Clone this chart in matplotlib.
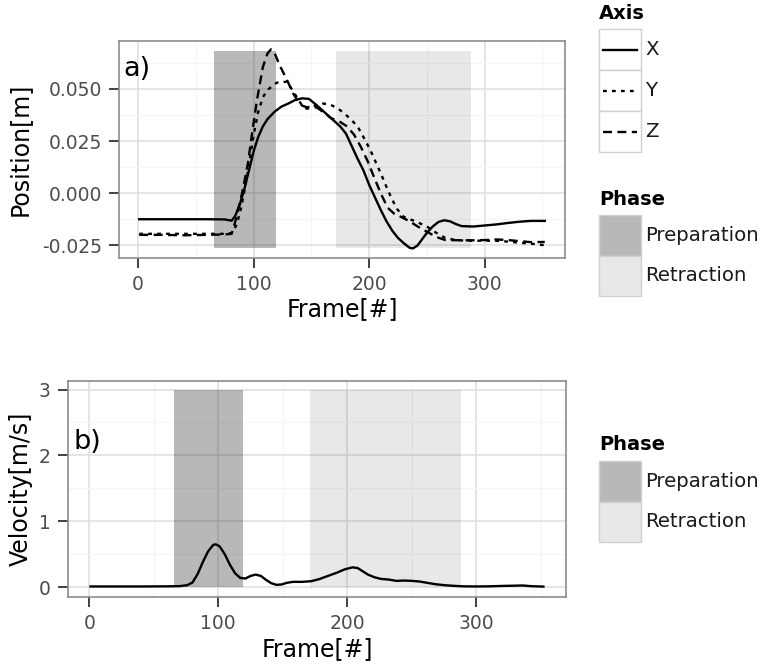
import matplotlib
matplotlib.use("Agg")
import matplotlib.pyplot as plt
from matplotlib.patches import Rectangle
import numpy as np

plt.rcParams.update({"font.family": "DejaVu Sans"})

# ---- data ----
x_frame = [1, 20, 40, 60, 75, 81, 84, 88, 92, 96, 100, 104, 108, 112, 118, 124, 130, 136,
           142, 148, 155, 162, 170, 175, 180, 185, 190, 195, 200, 205, 210, 215, 220, 225,
           230, 235, 238, 242, 246, 250, 255, 260, 265, 270, 275, 280, 290, 300, 310, 320,
           330, 340, 352]
x_pos = [-0.0125, -0.0125, -0.0125, -0.0125, -0.0126, -0.0132, -0.011, -0.0055, 0.002, 0.011,
         0.020, 0.027, 0.032, 0.0355, 0.039, 0.0415, 0.043, 0.0447, 0.0455, 0.0452, 0.042,
         0.0385, 0.0345, 0.032, 0.0285, 0.0225, 0.0165, 0.0110, 0.004, -0.002, -0.008, -0.0135,
         -0.018, -0.0215, -0.024, -0.0262, -0.0265, -0.025, -0.022, -0.019, -0.016, -0.0138,
         -0.0130, -0.0135, -0.0148, -0.0158, -0.016, -0.0155, -0.015, -0.0143, -0.0137,
         -0.0133, -0.0133]

y_frame = [1, 20, 40, 60, 75, 82, 86, 90, 95, 100, 104, 108, 112, 120, 129, 134, 138, 142,
           146, 150, 155, 160, 166, 172, 178, 184, 190, 195, 201, 206, 210, 215, 219, 224,
           230, 240, 250, 258, 266, 275, 285, 295, 305, 315, 325, 335, 345, 352]
y_pos = [-0.0195, -0.0195, -0.0195, -0.0195, -0.0195, -0.019, -0.014, -0.005, 0.010, 0.028,
         0.039, 0.046, 0.0495, 0.053, 0.0535, 0.049, 0.0455, 0.042, 0.0405, 0.041, 0.0425,
         0.043, 0.0425, 0.041, 0.0385, 0.0355, 0.032, 0.027, 0.0207, 0.0145, 0.0096, 0.003,
         -0.002, -0.0075, -0.0114, -0.0135, -0.016, -0.019, -0.0215, -0.0225, -0.0228,
         -0.0228, -0.0228, -0.023, -0.0235, -0.024, -0.0245, -0.025]

z_frame = [1, 20, 40, 60, 75, 81, 85, 90, 95, 99, 103, 108, 112, 115, 118, 122, 126, 130,
           134, 138, 142, 146, 150, 155, 160, 167, 174, 181, 187, 193, 199, 204, 210, 216,
           222, 228, 235, 242, 250, 258, 266, 280, 290, 300, 310, 320, 330, 340, 352]
z_pos = [-0.020, -0.020, -0.0202, -0.020, -0.0198, -0.0195, -0.012, 0.000, 0.014, 0.030,
         0.045, 0.0605, 0.067, 0.069, 0.0675, 0.062, 0.0575, 0.053, 0.048, 0.0445, 0.042,
         0.0412, 0.0415, 0.041, 0.039, 0.036, 0.0345, 0.032, 0.028, 0.022, 0.015, 0.008,
         0.000, -0.007, -0.010, -0.0115, -0.0135, -0.016, -0.0185, -0.021, -0.0225, -0.0226,
         -0.0226, -0.0225, -0.0222, -0.0225, -0.023, -0.0235, -0.0234]

v_frame = [1, 20, 40, 60, 70, 76, 80, 84, 88, 92, 96, 98, 101, 105, 109, 113, 117, 121, 125,
           129, 133, 137, 141, 145, 149, 153, 158, 165, 172, 178, 185, 192, 198, 204, 208,
           212, 216, 221, 226, 232, 238, 244, 250, 256, 262, 268, 275, 282, 290, 300, 310,
           320, 330, 336, 342, 352]
v_val = [0.01, 0.01, 0.01, 0.012, 0.015, 0.03, 0.07, 0.2, 0.38, 0.54, 0.64, 0.65, 0.62, 0.5,
         0.34, 0.21, 0.14, 0.13, 0.17, 0.19, 0.17, 0.11, 0.06, 0.035, 0.04, 0.065, 0.08, 0.08,
         0.09, 0.12, 0.17, 0.22, 0.27, 0.30, 0.29, 0.24, 0.19, 0.15, 0.125, 0.115, 0.095, 0.1,
         0.095, 0.085, 0.065, 0.045, 0.03, 0.02, 0.012, 0.01, 0.012, 0.018, 0.022, 0.025,
         0.015, 0.008]

phase_names = ["Preparation", "Retraction"]
phase_start = [66, 171]
phase_end = [119, 288]
phase_alpha = [0.28, 0.09]

axis_names = ["X", "Y", "Z"]
axis_styles = ["-", (0, (1.6, 2.2)), (0, (3.8, 2.3))]

W, H = 765, 668
fig = plt.figure(figsize=(W / 100, H / 100), dpi=100)

def px_axes(l, t, r, b):
    return fig.add_axes([l / W, 1 - b / H, (r - l) / W, (b - t) / H])

def style_panel(ax, xlim, ylim, yticks, yminor, ylabels):
    ax.set_xlim(*xlim)
    ax.set_ylim(*ylim)
    ax.set_xticks([0, 100, 200, 300])
    ax.set_xticks([50, 150, 250, 350], minor=True)
    ax.set_yticks(yticks)
    ax.set_yticklabels(ylabels)
    ax.set_yticks(yminor, minor=True)
    ax.grid(which="major", color="#e0e0e0", lw=1.2)
    ax.grid(which="minor", color="#f5f5f5", lw=0.8)
    ax.set_axisbelow(True)
    ax.tick_params(which="major", length=7, width=1.3, color="#333333", pad=5.5,
                   labelsize=13.5, labelcolor="#4d4d4d")
    ax.tick_params(which="minor", length=0)
    for s in ax.spines.values():
        s.set_color("#8c8c8c")
        s.set_linewidth(1.2)

def shade(ax, y0, y1):
    for s, e, a in zip(phase_start, phase_end, phase_alpha):
        ax.add_patch(Rectangle((s, y0), e - s, y1 - y0, facecolor="black",
                               alpha=a, lw=0, zorder=1))

# ---- a) position ----
ax1 = px_axes(119, 41, 565, 258)
style_panel(ax1, (-16.5, 369.5), (-0.0311, 0.0730),
            [-0.025, 0.0, 0.025, 0.050], [-0.0125, 0.0125, 0.0375, 0.0625],
            ["-0.025", "0.000", "0.025", "0.050"])
shade(ax1, -0.0264, 0.0683)
for fr, vals, ls in zip([x_frame, y_frame, z_frame], [x_pos, y_pos, z_pos], axis_styles):
    ax1.plot(fr, vals, color="black", lw=1.7, linestyle=ls, zorder=3)
ax1.text(-13, 0.0595, "a)", fontsize=19.5, ha="left", va="center", zorder=4)
ax1.set_xlabel("Frame[#]", fontsize=17)
ax1.set_ylabel("Position[m]", fontsize=17)
ax1.xaxis.set_label_coords(0.5, -0.18)
ax1.yaxis.set_label_coords(-0.195, 0.5)

# ---- b) velocity ----
ax2 = px_axes(68, 381, 566, 597)
style_panel(ax2, (-16.5, 369.5), (-0.15, 3.13), [0, 1, 2, 3], [0.5, 1.5, 2.5],
            ["0", "1", "2", "3"])
shade(ax2, 0, 3)
ax2.plot(v_frame, v_val, color="black", lw=1.7, zorder=3)
ax2.text(-12, 2.2, "b)", fontsize=19.5, ha="left", va="center", zorder=4)
ax2.set_xlabel("Frame[#]", fontsize=17)
ax2.set_ylabel("Velocity[m/s]", fontsize=17)
ax2.xaxis.set_label_coords(0.5, -0.185)
ax2.yaxis.set_label_coords(-0.07, 0.5)

# ---- legends (ggplot-like, drawn in pixel space) ----
ov = fig.add_axes([0, 0, 1, 1], zorder=10)
ov.set_xlim(0, W)
ov.set_ylim(H, 0)
ov.axis("off")
ov.patch.set_alpha(0)

kx0, kx1 = 599, 641

def phase_legend(top_title, keys_top):
    ov.text(kx0, top_title, "Phase", fontsize=14, fontweight="bold", va="baseline")
    kh = 40.5
    for i, (name, a) in enumerate(zip(phase_names, phase_alpha)):
        y = keys_top + i * kh
        g = 1 - a
        ov.add_patch(Rectangle((kx0, y), kx1 - kx0, kh, facecolor=(g, g, g),
                               edgecolor="#d0d0d0", lw=1))
        ov.text(kx1 + 4, y + kh / 2, name, fontsize=14.2, va="center", color="#1a1a1a")

ov.text(kx0, 19, "Axis", fontsize=14, fontweight="bold", va="baseline")
for i, (name, ls) in enumerate(zip(axis_names, axis_styles)):
    y = 29 + i * 41
    ov.add_patch(Rectangle((kx0, y), kx1 - kx0, 41, facecolor="white",
                           edgecolor="#d0d0d0", lw=1))
    ov.plot([kx0 + 4, kx1 - 4], [y + 20.5, y + 20.5], color="black", lw=1.7, linestyle=ls)
    ov.text(kx1 + 4, y + 20.5, name, fontsize=14.2, va="center", color="#1a1a1a")

phase_legend(205, 215)
phase_legend(450, 461)

fig.savefig("out.png", dpi=100)
